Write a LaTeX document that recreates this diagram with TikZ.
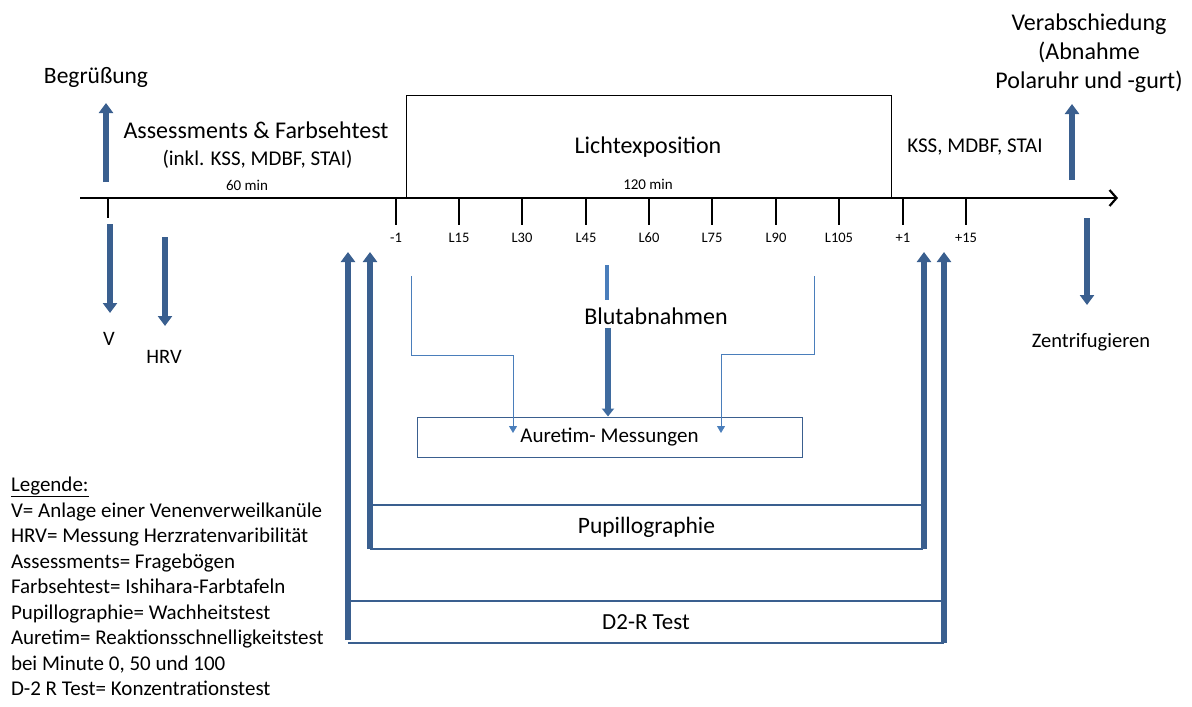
\documentclass[tikz,border=0pt]{standalone}
\usepackage{fontspec}
\setmainfont{Carlito}
\usetikzlibrary{arrows.meta}
\definecolor{dblue}{HTML}{3A5F8F}
\definecolor{lblue}{HTML}{4A7EBB}
\newcommand{\fsz}[1]{\fontsize{#1}{1.2\dimexpr#1pt\relax}\selectfont}
\begin{document}
\begin{tikzpicture}[x=1pt,y=-1pt,
  txt/.style={inner sep=0pt, outer sep=0pt},
  fatarrow/.style={draw=dblue, line width=6pt, -{Triangle[length=10pt,width=14pt]}},
  barstyle/.style={draw=dblue, line width=6pt, -{Triangle[length=10pt,width=14pt]}},
  thinarrow/.style={draw=lblue, line width=1pt, -{Triangle[length=7pt,width=8pt]}},
  boxline/.style={draw=dblue, line width=1.2pt},
  tick/.style={draw=black, line width=1.4pt},
  ticklabel/.style={txt, font=\fsz{14.5}}
]
\useasboundingbox (0,0) rectangle (1192,707);

% timeline
\coordinate (tl0) at (80,198);
\coordinate (tl1) at (1118,198);
\draw[line width=2.2pt, -{Straight Barb[length=7pt,width=16pt]}] (tl0) -- (tl1);

% light exposure box
\node[draw=black, line width=1.3pt, minimum width=485pt, minimum height=103pt, anchor=north west, inner sep=0pt] (licht) at (406,95) {};
\node[txt, font=\fsz{24}] (lichtt) at (648,147) {Lichtexposition};
\node[txt, font=\fsz{15}] (m120) at (648,184) {120 min};

% left texts
\node[txt, font=\fsz{23.5}] (begr) at (96,77) {Begrüßung};
\node[txt, font=\fsz{24}] (assess) at (256,130) {Assessments \& Farbsehtest};
\node[txt, font=\fsz{21}] (inkl) at (257.5,159) {(inkl. KSS, MDBF, STAI)};
\node[txt, font=\fsz{15}] (m60) at (247,185) {60 min};

% ticks
\draw[tick] (108,198) -- (108,218);
\foreach \x/\l/\n in {396/-1/tm1, 459/L15/t15, 522/L30/t30, 586/L45/t45, 649/L60/t60, 712/L75/t75, 776/L90/t90, 839/L105/t105, 903/+1/tp1, 966/+15/tp15}{
  \node[ticklabel] (\n) at (\x,238) {\l};
  \draw[tick] (\x,198) -- (\x,225);
}

% left arrows
\coordinate (begrA0) at (106,182);
\coordinate (begrA1) at (106,103);
\draw[fatarrow] (begrA0) -- (begrA1);
\node[txt, font=\fsz{20.5}] (V) at (109,339) {V};
\node[txt, font=\fsz{20.5}] (HRV) at (164,357) {HRV};
\coordinate (vA0) at (110,224);
\coordinate (vA1) at (110,313);
\draw[fatarrow] (vA0) -- (vA1);
\coordinate (hA0) at (165,237);
\coordinate (hA1) at (165,326);
\draw[fatarrow] (hA0) -- (hA1);

% right texts
\node[txt, font=\fsz{21}] (kss) at (975,147) {KSS, MDBF, STAI};
\node[txt, font=\fontsize{24}{29}\selectfont, align=center] (verab) at (1089,53) {Verabschiedung\\(Abnahme\\Polaruhr und -gurt)};
\coordinate (rA0) at (1072,180);
\coordinate (rA1) at (1072,104);
\draw[fatarrow] (rA0) -- (rA1);
\node[txt, font=\fsz{20.5}] (zent) at (1091,342) {Zentrifugieren};
\coordinate (zA0) at (1087,218);
\coordinate (zA1) at (1087,305);
\draw[fatarrow] (zA0) -- (zA1);

% Blutabnahmen
\node[txt, font=\fsz{24}] (blut) at (656,316) {Blutabnahmen};
\coordinate (b0) at (607,265);
\coordinate (b1) at (607,300);
\draw[draw=lblue, line width=4pt] (b0) -- (b1);

% Auretim box
\node[draw=dblue, line width=1pt, minimum width=385pt, minimum height=40pt, inner sep=0pt, font=\fsz{21}] (aur) at (609.5,437) {Auretim- Messungen};
\coordinate (bA0) at (608,328);
\draw[draw=lblue!85!black, line width=6pt, -{Triangle[length=8pt,width=12pt]}] (bA0) -- (aur.north -| bA0);

\coordinate (l0) at (411,276);
\coordinate (l1) at (411,355);
\coordinate (l2) at (513,355);
\coordinate (l3) at (513,433);
\draw[thinarrow] (l0) -- (l1) -- (l2) -- (l3);
\coordinate (r0) at (814,276);
\coordinate (r1) at (814,354);
\coordinate (r2) at (721,354);
\coordinate (r3) at (721,433);
\draw[thinarrow] (r0) -- (r1) -- (r2) -- (r3);

% Pupillographie
\node[txt, minimum width=553pt, minimum height=44pt, font=\fsz{23.5}] (pup) at (646.5,527) {Pupillographie};
\draw[boxline] (pup.north west) -- (pup.north east);
\draw[boxline] (pup.south west) -- (pup.south east);

% D2-R
\node[txt, minimum width=596pt, minimum height=42pt, font=\fsz{23}] (d2r) at (646,622) {D2-R Test};
\draw[boxline] (d2r.north west) -- (d2r.north east);
\draw[boxline] (d2r.south west) -- (d2r.south east);

% vertical bars
\coordinate (ob1) at (348,252);
\coordinate (ib1) at (370,252);
\coordinate (ib2) at (924,252);
\coordinate (ob2) at (944,252);
\draw[barstyle] (d2r.south west -| ob1) ++(0,-3) -- (ob1);
\draw[barstyle] (pup.south west -| ib1) -- (ib1);
\draw[barstyle] (pup.south east -| ib2) -- (ib2);
\draw[barstyle] (d2r.south east -| ob2) -- (ob2);

% legend
\node[txt, anchor=north west, align=left, font=\fontsize{21}{25.5}\selectfont] (leg) at (11,477) {\underline{Legende:}\\
V= Anlage einer Venenverweilkanüle\\
HRV= Messung Herzratenvaribilität\\
Assessments= Fragebögen\\
Farbsehtest= Ishihara-Farbtafeln\\
Pupillographie= Wachheitstest\\
Auretim= Reaktionsschnelligkeitstest\\
bei Minute 0, 50 und 100\\
D-2 R Test= Konzentrationstest};
\end{tikzpicture}
\end{document}
